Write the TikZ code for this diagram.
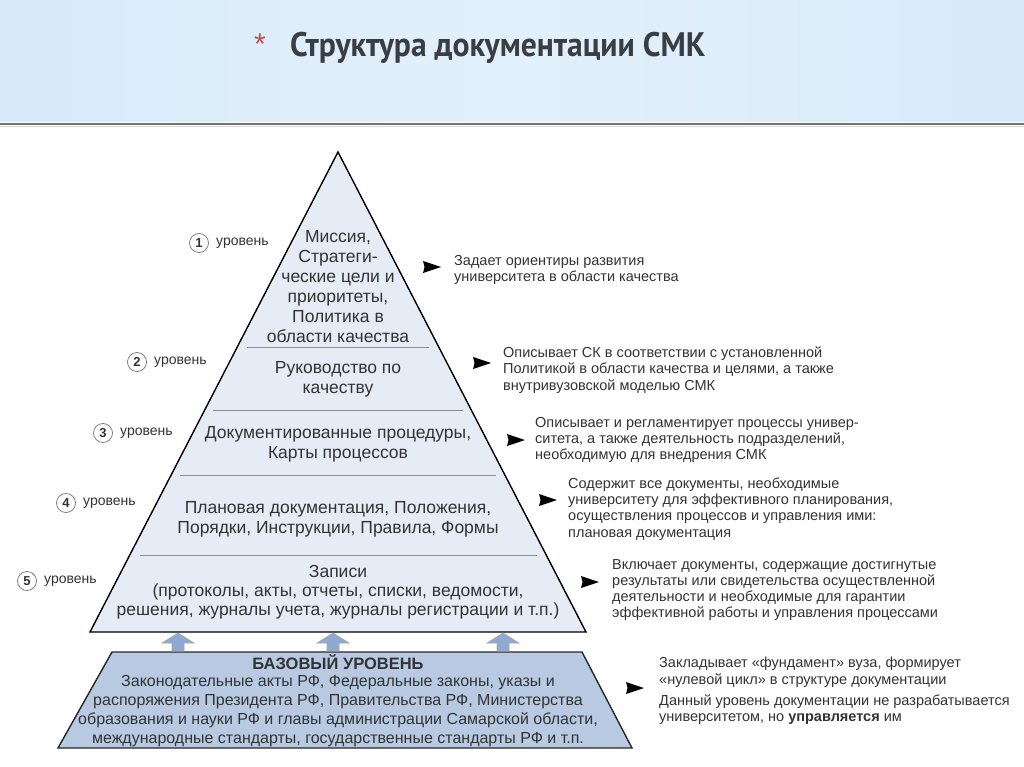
\documentclass[tikz,border=0pt]{standalone}
\usepackage{fontspec}
\setmainfont{Liberation Sans}
\newfontfamily\titlefont{PT Sans}
\definecolor{hdrside}{HTML}{A3D0F1}
\definecolor{hdrmid2}{HTML}{D3E8F8}
\definecolor{hdrmid}{HTML}{E2F0FB}
\definecolor{titlegray}{HTML}{3A3E44}
\definecolor{starred}{HTML}{C0504D}
\definecolor{pyrfill}{HTML}{E6ECF5}
\definecolor{basefill}{HTML}{B7CAE2}
\definecolor{arrowfill}{HTML}{8FAAD0}
\definecolor{txt}{HTML}{333333}
\pgfdeclarehorizontalshading{hdrshade}{100bp}{color(0bp)=(hdrside); color(12bp)=(hdrmid2); color(50bp)=(hdrmid); color(88bp)=(hdrmid2); color(100bp)=(hdrside)}
\begin{document}
\begin{tikzpicture}[x=1pt,y=-1pt,
  pyr/.style={fill=pyrfill, draw=black, line width=1.4pt, line join=miter},
  basebox/.style={fill=basefill, draw=black!85, line width=1.4pt},
  divider/.style={draw=black!45, line width=1pt},
  lvltext/.style={align=center, text=txt, font=\fontsize{17.5}{20}\selectfont, inner sep=0pt},
  desc/.style={anchor=west, align=left, text=txt, font=\fontsize{14.5}{16.3}\selectfont, inner sep=0pt},
  pointer/.style={fill=black},
  numcirc/.style={circle, draw=black!55, line width=0.7pt, minimum size=19pt, inner sep=0pt, font=\bfseries\fontsize{13}{13}\selectfont, text=txt},
  lvllabel/.style={anchor=west, text=txt, font=\fontsize{14}{14}\selectfont, inner sep=0pt},
  uparrow/.style={fill=arrowfill, draw=black!35, line width=0.6pt}
]
\useasboundingbox (0,0) rectangle (1024,767);
\fill[white] (0,0) rectangle (1024,767);
% header
\begin{scope}[y=1pt]
\shade[shading=hdrshade] (0,0) rectangle (1024,-122);
\end{scope}
\draw[line width=2pt, draw=black!55] (0,124) -- (1024,124);
\draw[line width=1pt, draw=black!15] (0,126.5) -- (1024,126.5);
\node[text=starred, font=\fontsize{30}{30}\selectfont, inner sep=0pt] (star) at (260,44) {*};
\node[anchor=base west, inner sep=0pt, text=titlegray, font=\titlefont\bfseries\fontsize{34}{34}\selectfont] (title) at (290,57) {\scalebox{0.93}[1]{Структура документации СМК}};

% pyramid
\draw[pyr] (338,152) -- (586,632) -- (90,632) -- cycle;
\draw[divider] (247,347) -- (429,347);
\draw[divider] (213,410) -- (463,410);
\draw[divider] (180,475) -- (496,475);
\draw[divider] (140,555) -- (537,555);

\node[lvltext] (t1) at (338,287) {Миссия,\\Стратеги-\\ческие цели и\\приоритеты,\\Политика в\\области качества};
\node[lvltext] (t2) at (338,379) {Руководство по\\качеству};
\node[lvltext] (t3) at (338,444) {Документированные процедуры,\\Карты процессов};
\node[lvltext] (t4) at (338,519) {Плановая документация, Положения,\\Порядки, Инструкции, Правила, Формы};
\node[lvltext, font=\fontsize{17.5}{19}\selectfont] (t5) at (338,592) {Записи\\(протоколы, акты, отчеты, списки, ведомости,\\решения, журналы учета, журналы регистрации и т.п.)};

% base
\draw[basebox] (112,652) -- (582,652) -- (632,748) -- (58,748) -- cycle;
\node[text=txt, font=\bfseries\fontsize{16.5}{16.5}\selectfont, inner sep=0pt] (bhead) at (338,662) {БАЗОВЫЙ УРОВЕНЬ};
\node[lvltext, font=\fontsize{16}{19}\selectfont] (btext) at (338,711) {Законодательные акты РФ, Федеральные законы, указы и\\распоряжения Президента РФ, Правительства РФ, Министерства\\образования и науки РФ и главы администрации Самарской области,\\международные стандарты, государственные стандарты РФ и т.п.};

% up arrows
\foreach \ax in {178,333,503}{
  \draw[uparrow] (\ax-6,651) -- (\ax-6,643) -- (\ax-16,643) -- (\ax,633) -- (\ax+16,643) -- (\ax+6,643) -- (\ax+6,651) -- cycle;
}

% left level labels
\node[numcirc] (c1) at (199,243) {1};
\node[lvllabel] (l1) at (216,243) {уровень};
\node[numcirc] (c2) at (137,362) {2};
\node[lvllabel] (l2) at (154,362) {уровень};
\node[numcirc] (c3) at (103,433) {3};
\node[lvllabel] (l3) at (120,433) {уровень};
\node[numcirc] (c4) at (66,503) {4};
\node[lvllabel] (l4) at (83,503) {уровень};
\node[numcirc] (c5) at (27,581) {5};
\node[lvllabel] (l5) at (44,581) {уровень};

% descriptions
\node[desc] (d1) at (454,270) {Задает ориентиры развития\\университета в области качества};
\node[desc] (d2) at (503,370) {Описывает СК в соответствии с установленной\\Политикой в области качества и целями, а также\\внутривузовской моделью СМК};
\node[desc] (d3) at (535,440) {Описывает и регламентирует процессы универ-\\ситета, а также деятельность подразделений,\\необходимую для внедрения СМК};
\node[desc] (d4) at (568,509) {Содержит все документы, необходимые\\университету для эффективного планирования,\\осуществления процессов и управления ими:\\плановая документация};
\node[desc] (d5) at (612,590) {Включает документы, содержащие достигнутые\\результаты или свидетельства осуществленной\\деятельности и необходимые для гарантии\\эффективной работы и управления процессами};
\node[desc] (d6) at (659,691) {Закладывает «фундамент» вуза, формирует\\«нулевой цикл» в структуре документации\\[5pt]Данный уровень документации не разрабатывается\\университетом, но \textbf{управляется} им};

% pointers
\foreach \px/\py in {423/267, 473/363, 507/440, 539/500, 581/582, 626/688}{
  \fill[pointer] (\px,\py-6) -- (\px+18,\py) -- (\px,\py+6) -- (\px+1.5,\py) -- cycle;
}
\end{tikzpicture}
\end{document}
